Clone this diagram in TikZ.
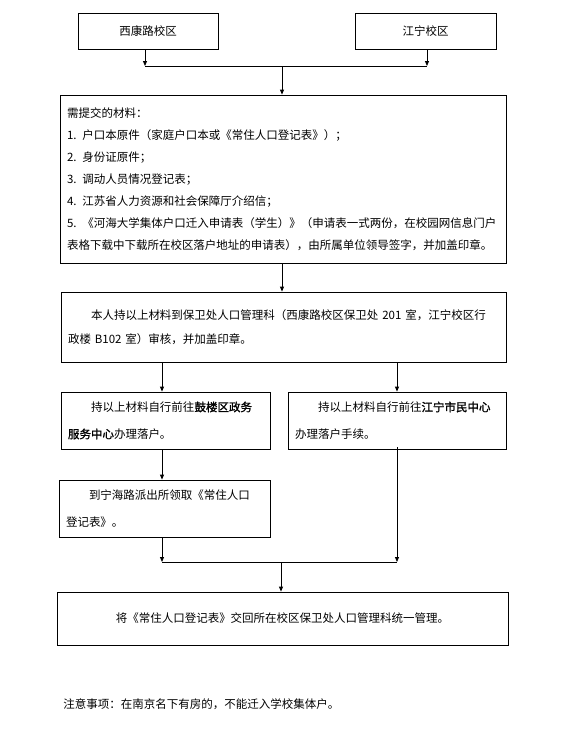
\documentclass[tikz,border=0pt]{standalone}
\usepackage{fontspec}
\setmainfont{Noto Sans CJK SC}[AutoFakeBold=1.5]
\usepackage{tikz}
\usetikzlibrary{arrows.meta}

\begin{document}
\begin{tikzpicture}[x=1pt, y=-1pt, line width=0.8pt, >={Triangle[length=5pt,width=4pt]},
  box/.style={draw, align=left, inner xsep=7pt, inner ysep=0pt},
  campus/.style={draw, minimum width=140pt, minimum height=36pt, font=\fontsize{11.5}{14}\selectfont}]
\useasboundingbox (0,0) rectangle (569,729);

\node[campus] (xikang) at (148,31) {西康路校区};
\node[campus, minimum width=141pt] (jiangning) at (425.5,31) {江宁校区};
\coordinate (join1) at (282,66);

\node[box, text width=432pt, minimum height=168pt, font=\fontsize{11.5}{22}\selectfont] (materials) at (283,179)
  {需提交的材料：\\
   1. 户口本原件（家庭户口本或《常住人口登记表》）；\\
   2. 身份证原件；\\
   3. 调动人员情况登记表；\\
   4. 江苏省人力资源和社会保障厅介绍信；\\
   5. 《河海大学集体户口迁入申请表（学生）》（申请表一式两份，在校园网信息门户\\
   表格下载中下载所在校区落户地址的申请表），由所属单位领导签字，并加盖印章。};

\node[box, text width=431pt, minimum height=70pt, font=\fontsize{11.5}{24}\selectfont] (review) at (283.5,327)
  {\hspace*{2em}本人持以上材料到保卫处人口管理科（西康路校区保卫处 201 室，江宁校区行\\
   政楼 B102 室）审核，并加盖印章。};

\coordinate (lcol) at (162,0);
\coordinate (rcol) at (397,0);

\node[box, text width=195pt, minimum height=57pt, font=\fontsize{11.5}{27}\selectfont] (gulou) at (165.5,420.5)
  {\hspace*{2em}持以上材料自行前往\textbf{鼓楼区政务}\\
   \textbf{服务中心}办理落户。};
\node[box, text width=204pt, minimum height=57pt, font=\fontsize{11.5}{27}\selectfont] (jncenter) at (397,420.5)
  {\hspace*{2em}持以上材料自行前往\textbf{江宁市民中心}\\
   办理落户手续。};

\node[box, text width=197pt, minimum height=57pt, font=\fontsize{11.5}{27}\selectfont] (paichusuo) at (164.5,508.5)
  {\hspace*{2em}到宁海路派出所领取《常住人口\\
   登记表》。};

\coordinate (join2) at (281,562);

\node[box, text width=437pt, minimum height=53pt, align=center, font=\fontsize{11.5}{14}\selectfont] (huijiao) at (282.5,618.5)
  {将《常住人口登记表》交回所在校区保卫处人口管理科统一管理。};

\node[anchor=west, inner sep=0pt, font=\fontsize{11.5}{14}\selectfont] (note) at (63,704)
  {注意事项：在南京名下有房的，不能迁入学校集体户。};

\draw[->] ([xshift=-3pt]xikang.south) -- ([xshift=-3pt]xikang.south |- join1);
\draw[->] ([xshift=1.5pt]jiangning.south) -- ([xshift=1.5pt]jiangning.south |- join1);
\draw ([xshift=-3pt]xikang.south |- join1) -- ([xshift=1.5pt]jiangning.south |- join1);
\draw[->] (join1) -- (join1 |- materials.north);

\draw[->] (join1 |- materials.south) -- (join1 |- review.north);

\draw[->] (lcol |- review.south) -- (lcol |- gulou.north);
\draw[->] (rcol |- review.south) -- (rcol |- jncenter.north);
\draw[->] (lcol |- gulou.south) -- (lcol |- paichusuo.north);

\draw[->] (lcol |- paichusuo.south) -- (lcol |- join2);
\draw[->] ([yshift=2pt]rcol |- jncenter.south) -- (rcol |- join2);
\draw (lcol |- join2) -- (rcol |- join2);
\draw[->] (join2) -- (join2 |- huijiao.north);
\end{tikzpicture}
\end{document}
